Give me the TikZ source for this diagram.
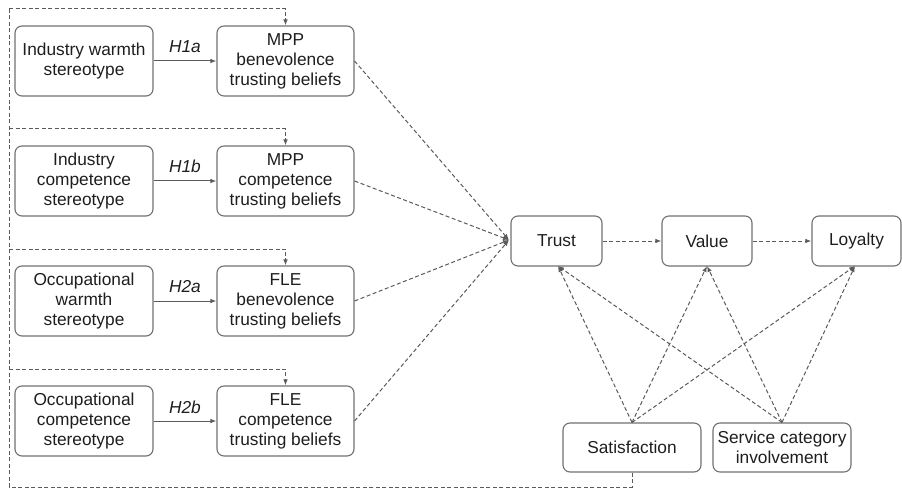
\documentclass[tikz,border=0pt]{standalone}
\usepackage{fontspec}
\setmainfont{Liberation Sans}
\usetikzlibrary{arrows.meta}
\definecolor{boxc}{HTML}{707070}
\definecolor{linec}{HTML}{5A5A5A}
\definecolor{txtc}{HTML}{1E1E1E}
\begin{document}
\begin{tikzpicture}[x=1pt,y=-1pt,
  box/.style={draw=boxc,line width=1.1pt,rounded corners=7pt,align=center,
    text=txtc,font=\fontsize{17.3}{20}\selectfont,inner sep=0pt},
  bigbox/.style={box,minimum width=137pt,minimum height=70pt},
  smallbox/.style={box,minimum height=50pt},
  tip/.style={-{Latex[length=6pt,width=4.5pt]}},
  solidarr/.style={draw=linec,line width=1pt,tip},
  dasharr/.style={draw=linec,line width=1pt,dash pattern=on 4pt off 2.5pt,tip},
  dashline/.style={draw=linec,line width=1pt,dash pattern=on 4pt off 2.5pt},
  hlab/.style={font=\fontsize{17.3}{20}\selectfont\itshape,text=txtc}
]
\useasboundingbox (0,0) rectangle (902,489);

% left column
\node[bigbox,minimum width=138pt] (iw) at (84,61) {Industry warmth\\stereotype};
\node[bigbox,minimum width=138pt] (ic) at (84,181) {Industry\\competence\\stereotype};
\node[bigbox,minimum width=138pt] (ow) at (84,301) {Occupational\\warmth\\stereotype};
\node[bigbox,minimum width=138pt] (oc) at (84,421) {Occupational\\competence\\stereotype};

% trusting beliefs
\node[bigbox] (mb) at (285.5,61) {MPP\\benevolence\\trusting beliefs};
\node[bigbox] (mc) at (285.5,181) {MPP\\competence\\trusting beliefs};
\node[bigbox] (fb) at (285.5,301) {FLE\\benevolence\\trusting beliefs};
\node[bigbox] (fc) at (285.5,421) {FLE\\competence\\trusting beliefs};

% outcomes
\node[smallbox,minimum width=91pt] (trust) at (556.5,241) {Trust};
\node[smallbox,minimum width=90pt] (value) at (707,241) {Value};
\node[smallbox,minimum width=89pt] (loy) at (856.5,241) {Loyalty};
\node[box,minimum width=138pt,minimum height=49pt] (sat) at (632,447.5) {Satisfaction};
\node[box,minimum width=138pt,minimum height=49pt] (sci) at (782,447.5) {Service category\\involvement};

% hypotheses
\draw[solidarr] (iw.east) -- node[hlab,above=4pt] {H1a} (mb.west);
\draw[solidarr] (ic.east) -- node[hlab,above=4pt] {H1b} (mc.west);
\draw[solidarr] (ow.east) -- node[hlab,above=4pt] {H2a} (fb.west);
\draw[solidarr] (oc.east) -- node[hlab,above=4pt] {H2b} (fc.west);

% to trust
\coordinate (tin) at (509,240);
\draw[dasharr] (mb.east) -- (tin);
\draw[dasharr] (mc.east) -- (tin);
\draw[dasharr] (fb.east) -- (tin);
\draw[dasharr] (fc.east) -- (tin);

\draw[dasharr] (trust.east) -- (value.west);
\draw[dasharr] (value.east) -- (loy.west);

% satisfaction / involvement
\coordinate (tb) at (558,266);
\coordinate (vb) at (707,266);
\coordinate (lb) at (855,266);
\draw[dasharr] (sat.north) -- (tb);
\draw[dasharr] (sat.north) -- (vb);
\draw[dasharr] (sat.north) -- (lb);
\draw[dasharr] (sci.north) -- (tb);
\draw[dasharr] (sci.north) -- (vb);
\draw[dasharr] (sci.north) -- (lb);

% feedback
\coordinate (fbot) at (9,487);
\coordinate (f1) at (9,9);
\coordinate (f2) at (9,129);
\coordinate (f3) at (9,249);
\coordinate (f4) at (9,369);
\draw[dashline] (sat.south) |- (fbot) -- (f1);
\draw[dasharr] (f1) -| (mb.north);
\draw[dasharr] (f2) -| (mc.north);
\draw[dasharr] (f3) -| (fb.north);
\draw[dasharr] (f4) -| (fc.north);
\end{tikzpicture}
\end{document}
